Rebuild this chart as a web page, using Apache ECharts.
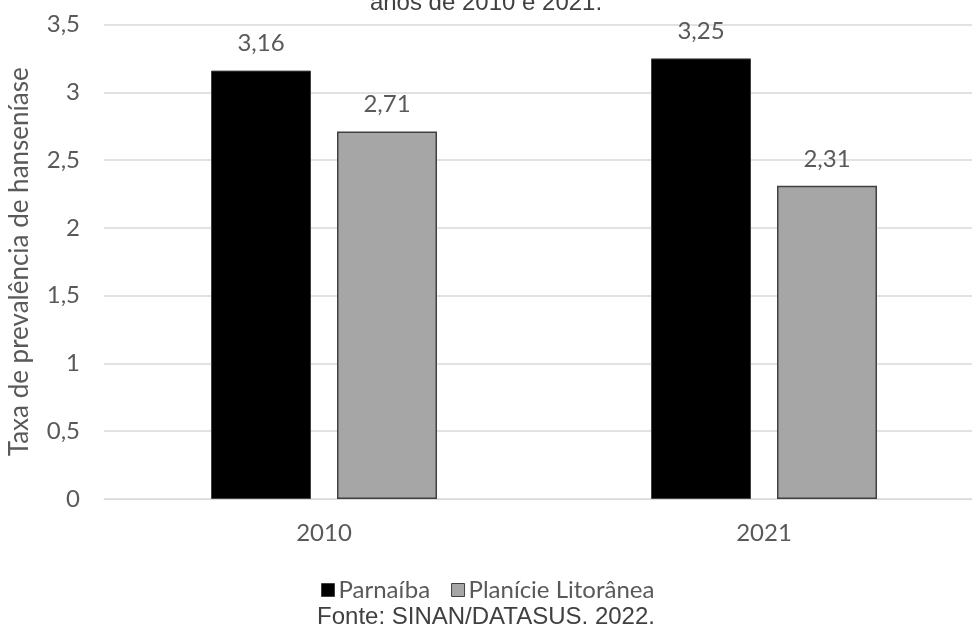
<!DOCTYPE html>
<html>
<head>
<meta charset="utf-8">
<script src="https://cdn.jsdelivr.net/npm/echarts@6/dist/echarts.min.js"></script>
<style>
html,body{margin:0;padding:0;background:#fff;}
#chart{width:972px;height:624px;}
</style>
</head>
<body>
<div id="chart"></div>
<script>
// Taxa de prevalência de hanseníase por ano
const years = ['2010', '2021'];
const parnaiba = [3.16, 3.25];
const planicie = [2.71, 2.31];
const seriesNames = ['Parnaíba', 'Planície Litorânea'];
const yTicks = [0, 0.5, 1, 1.5, 2, 2.5, 3, 3.5];

const fmt = v => String(v).replace('.', ',');
const labelFont = 'Lato, "Open Sans", sans-serif';

const chart = echarts.init(document.getElementById('chart'), null, { renderer: 'canvas' });

chart.setOption({
  animation: false,
  backgroundColor: '#ffffff',
  grid: { left: 104, top: 24.5, width: 880, height: 474.5, containLabel: false, outerBoundsMode: 'none' },
  legend: {
    data: seriesNames,
    left: 321,
    top: 578,
    itemWidth: 13,
    itemHeight: 13,
    itemGap: 21,
    icon: 'rect',
    padding: 0,
    textStyle: { color: '#595959', fontSize: 24, fontFamily: labelFont, padding: [0, 0, 0, -1] },
    itemStyle: { borderColor: '#404040', borderWidth: 1 }
  },
  xAxis: {
    type: 'category',
    data: years,
    axisLine: { show: true, lineStyle: { color: '#d9d9d9', width: 1 } },
    axisTick: { show: false },
    axisLabel: { color: '#595959', fontSize: 24, fontFamily: labelFont, margin: 22 }
  },
  yAxis: {
    type: 'value',
    min: yTicks[0],
    max: yTicks[yTicks.length - 1],
    interval: 0.5,
    name: 'Taxa de prevalência de hanseníase',
    nameLocation: 'middle',
    nameGap: 71,
    nameRotate: 90,
    nameTextStyle: { color: '#595959', fontSize: 26, fontFamily: labelFont },
    axisLine: { show: false },
    axisTick: { show: false },
    splitLine: { lineStyle: { color: '#d9d9d9', width: 1.5 } },
    axisLabel: { color: '#595959', fontSize: 24, fontFamily: labelFont, margin: 24, formatter: fmt }
  },
  series: [
    {
      name: seriesNames[0],
      type: 'bar',
      data: parnaiba,
      barWidth: 100,
      barGap: '26%',
      itemStyle: { color: '#000000', borderColor: '#404040', borderWidth: 1 },
      label: {
        show: true, position: 'top', distance: 15,
        color: '#595959', fontSize: 24, fontFamily: labelFont,
        formatter: p => fmt(p.value)
      }
    },
    {
      name: seriesNames[1],
      type: 'bar',
      data: planicie,
      barWidth: 100,
      barGap: '26%',
      itemStyle: { color: '#a6a6a6', borderColor: '#404040', borderWidth: 1.5 },
      label: {
        show: true, position: 'top', distance: 15,
        color: '#595959', fontSize: 24, fontFamily: labelFont,
        formatter: p => fmt(p.value)
      }
    }
  ],
  graphic: [
    {
      type: 'text',
      left: 'center',
      top: -9,
      style: {
        text: 'anos de 2010 e 2021.',
        fill: '#404040',
        font: '24px "Liberation Sans", Arial, sans-serif'
      }
    },
    {
      type: 'text',
      left: 'center',
      top: 605,
      style: {
        text: 'Fonte: SINAN/DATASUS, 2022.',
        fill: '#404040',
        font: '24px "Liberation Sans", Arial, sans-serif'
      }
    }
  ]
});
</script>
</body>
</html>
